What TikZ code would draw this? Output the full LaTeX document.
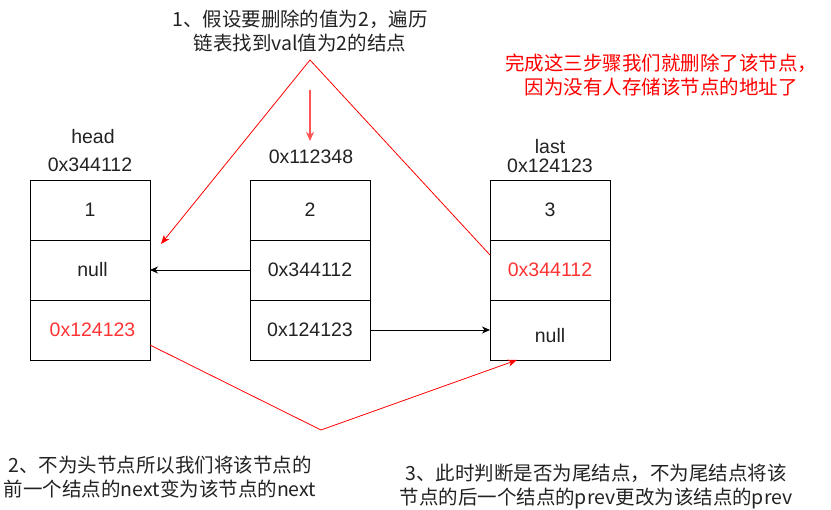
\documentclass[tikz,border=0pt]{standalone}
\usepackage{fontspec}
\setmainfont{Liberation Sans}
\newfontfamily\cjk{Noto Sans CJK SC}
\usetikzlibrary{arrows.meta,calc}
\definecolor{txt}{HTML}{222222}
\definecolor{lred}{HTML}{FF0000}
\definecolor{tred}{HTML}{FF3333}
\definecolor{pred}{HTML}{FF5555}
\begin{document}
\begin{tikzpicture}[x=1pt,y=-1pt,
  cell/.style={draw=black, line width=0.9pt, minimum width=120pt, minimum height=60pt,
    inner sep=0pt, outer sep=0pt, font=\fontsize{19.5}{23}\selectfont, text=txt},
  lbl/.style={inner sep=0pt, font=\fontsize{19.5}{23}\selectfont, text=txt},
  cn/.style={inner sep=0pt, font=\cjk\fontsize{19.5}{24}\selectfont, align=center, text=txt},
  blk/.style={draw=black, line width=0.9pt, -{Stealth[length=8pt,width=7pt,inset=2.5pt]}},
  rarr/.style={draw=lred, line width=0.8pt, -{Stealth[length=9pt,width=7pt,inset=2.5pt]}}]
\useasboundingbox (0,0) rectangle (831,510);
% box 1
\node[cell] (a1) at (90,210) {1};
\node[cell] (a2) at (90,270) {\hspace*{5pt}null};
\node[cell, text=tred] (a3) at (90,330) {\hspace*{5pt}0x124123};
% box 2
\node[cell] (b1) at (310,210) {2};
\node[cell] (b2) at (310,270) {0x344112};
\node[cell] (b3) at (310,330) {0x124123};
% box 3
\node[cell] (c1) at (550,210) {3};
\node[cell, text=tred] (c2) at (550,270) {0x344112};
\node[cell] (c3) at (550,330) {};
\node[lbl] (c3t) at (550,336) {null};
% labels
\node[lbl] (hd) at (93,137) {head};
\node[lbl] (ha) at (90,165) {0x344112};
\node[lbl] (ma) at (311,157) {0x112348};
\node[lbl] (ls) at (550,147) {last};
\node[lbl] (la) at (550,166) {0x124123};
% texts
\node[cn] (t1) at (300,31) {1、假设要删除的值为2，遍历\\链表找到val值为2的结点};
\node[cn, text=lred] (t4) at (661,75) {完成这三步骤我们就删除了该节点，\\因为没有人存储该节点的地址了};
\node[cn] (t2) at (160,477) {2、不为头节点所以我们将该节点的\\前一个结点的next变为该节点的next};
\node[cn] (t3) at (596,486) {3、此时判断是否为尾结点，不为尾结点将该\\节点的后一个结点的prev更改为该结点的prev};
% black arrows
\draw[blk] (b2.west) -- (a2.east);
\draw[blk] (b3.east) -- (c3.west);
% red short arrow
\coordinate (s0) at (310,90);
\coordinate (s1) at (310,141);
\draw[draw=pred, line width=1.3pt, -{Stealth[length=9pt,width=8pt,inset=2.5pt]}] (s0) -- (s1);
% red triangle
\coordinate (p0) at ($(c2.north west)!0.25!(c2.south west)$);
\coordinate (apex) at (310,60);
\coordinate (p1) at (161,244);
\draw[rarr] (p0) -- (apex) -- (p1);
% red V
\coordinate (v0) at ($(a3.north east)!0.75!(a3.south east)$);
\coordinate (vb) at (321,430);
\coordinate (v1) at (517,360);
\draw[rarr] (v0) -- (vb) -- (v1);
\end{tikzpicture}
\end{document}
